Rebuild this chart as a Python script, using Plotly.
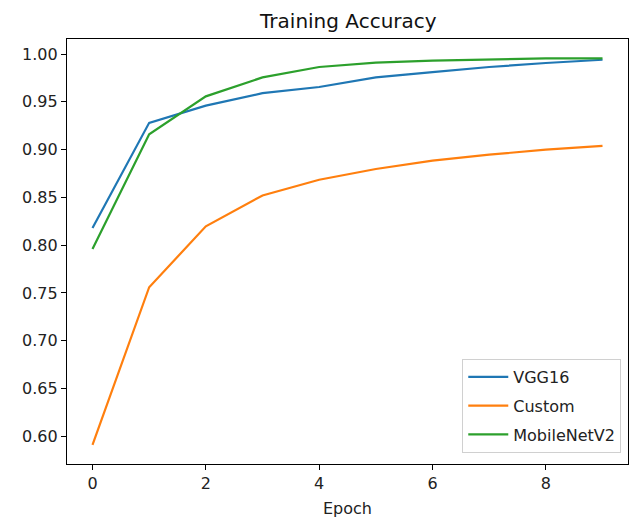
import plotly.graph_objects as go

epochs = list(range(10))
vgg16 = [0.818, 0.928, 0.946, 0.959, 0.9655, 0.9755, 0.981, 0.9864, 0.9906, 0.994]
custom = [0.591, 0.756, 0.8197, 0.852, 0.8685, 0.8797, 0.8884, 0.8947, 0.900, 0.9038]
mobilenet = [0.796, 0.916, 0.9557, 0.9755, 0.9864, 0.991, 0.993, 0.9944, 0.9954, 0.9954]

series = [("VGG16", vgg16, "#1f77b4"), ("Custom", custom, "#ff7f0e"), ("MobileNetV2", mobilenet, "#2ca02c")]

fig = go.Figure()
for name, vals, col in series:
    fig.add_trace(go.Scatter(x=epochs, y=vals, mode="lines", name=name, legendgroup=name,
                             line=dict(color=col, width=2.2)))

font = "DejaVu Sans"
axis_common = dict(showline=True, linecolor="black", linewidth=1.2, mirror=True, showgrid=False,
                   zeroline=False, ticks="outside", ticklen=5, tickwidth=1.2, tickcolor="black",
                   tickfont=dict(family=font, size=16, color="#222"))
fig.update_layout(
    width=630, height=525,
    margin=dict(l=67, r=2, t=39, b=61, autoexpand=False),
    paper_bgcolor="white", plot_bgcolor="white",
    title=dict(text="Training Accuracy", x=0.553, xanchor="center", y=0.96, yanchor="middle",
               font=dict(family=font, size=20, color="#111")),
    xaxis=dict(range=[-0.45, 9.45], dtick=2, tick0=0,
               title=dict(text="Epoch", font=dict(family=font, size=16, color="#222"), standoff=10),
               **axis_common),
    yaxis=dict(range=[0.5711, 1.0157], dtick=0.05, tick0=0.6, tickformat=".2f", **axis_common),
    legend=dict(x=0.988, y=0.026, xanchor="right", yanchor="bottom", bgcolor="white",
                bordercolor="#d0d0d0", borderwidth=1, tracegroupgap=5, traceorder="grouped",
                itemwidth=40,
                font=dict(family=font, size=16, color="#222")),
    showlegend=True,
)
fig.write_html("out.html", config={"displayModeBar": False},
               post_script="document.body.style.margin='0';document.body.style.overflow='hidden';")
